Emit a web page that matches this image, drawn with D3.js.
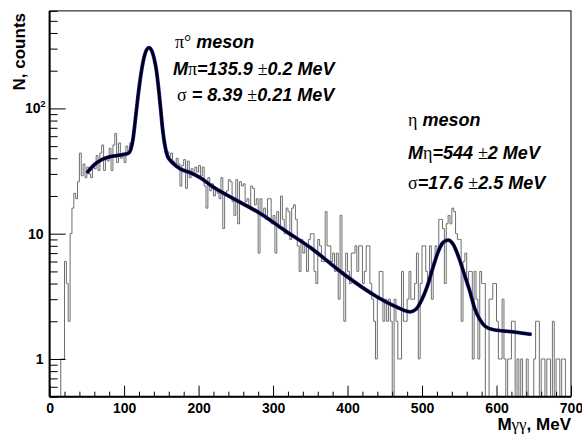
<!DOCTYPE html>
<html>
<head>
<meta charset="utf-8">
<script src="https://cdn.jsdelivr.net/npm/d3@7"></script>
<style>
body { margin: 0; background: #fff; }
</style>
</head>
<body>
<svg id="chart"></svg>
<script>
// histogram: 2.5 MeV bins from 0 to 700 MeV, counts
const binStart = 0;
const binWidth = 2.5;
const counts = [
  0,0,0,0,0,0,1,1,6,4,2,10,16,21,19,26,44,29,36,28,
  34,30,28,35,33,42,32,44,51,32,41,38,48,32,51,63,37,53,40,44,
  37,50,44,53,53,68,92,125,165,205,248,282,300,305,295,270,235,200,148,104,
  72,52,44,45,41,44,38,36,40,36,24,35,39,23,38,28,33,30,34,31,
  35,29,34,24,16,28,22,25,20,23,21,19,28,11,21,22,27,26,18,14,
  27,12,26,24,25,18,19,16,24,23,17,19,7,19,14,16,13,19,19,12,
  14,7,15,11,20,13,10,16,15,9,16,17,13,8,5,9,7,8,5,9,
  10,10,5,4,9,8,6,6,15,8,8,6,7,5,7,3,14,5,2,7,
  5,4,7,7,8,5,8,8,4,5,8,8,4,3,2,1,3,5,5,2,
  3,2,3,2,0,3,2,1,1,5,2,2,3,5,3,3,4,7,1,4,
  8,8,5,4,8,3,6,8,7,13,13,11,4,12,14,12,16,15,10,9,
  9,2,6,7,4,5,5,1,5,3,1,5,4,4,0,0,3,3,4,4,
  2,1,1,3,1,0,1,1,2,2,0,1,0,1,0,0,1,0,0,0,
  1,2,2,0,1,1,0,1,1,0,2,0,1,1,0,1,1,0,0,0
];

// fit curve, points
const fitMass = [50, 60, 70, 80, 90, 100, 106, 109, 112, 115, 118, 121, 124, 127, 130, 133.5,
  137, 140, 143, 146, 149, 152, 155, 158, 162, 168, 175, 190, 202, 220, 247, 282, 318, 352,
  394, 439, 466, 484, 492, 500, 507, 514, 521, 528, 535, 542, 550, 557, 564, 571, 578, 585,
  595, 620, 647];
const fitCounts = [30.5, 35.5, 39, 41, 42, 43, 44, 47, 57, 80, 115, 160, 210, 258, 292, 305,
  290, 255, 208, 150, 100, 66, 50, 42, 38.5, 35.5, 33, 30.5, 28, 23.5, 19, 14.6, 10.4, 7.6,
  4.8, 3.15, 2.6, 2.38, 2.5, 3.0, 3.8, 5.2, 7.0, 8.5, 8.9, 8.2, 6.3, 4.7, 3.5, 2.5, 2.05, 1.82,
  1.72, 1.65, 1.57];

const xTicks = [0, 100, 200, 300, 400, 500, 600, 700];
const yTicks = [1, 10, 100];
const yTickLabels = ["1", "10", "10"];

const width = 582, height = 434;
const padL = 49.6, padR = 571, padT = 10.9, padB = 396.7;

const svg = d3.select("#chart")
  .attr("width", width)
  .attr("height", height);

const x = d3.scaleLinear().domain([0, 700]).range([padL, padR]);
const y = d3.scaleLog().domain([0.5, 600]).range([padB, padT]);

svg.append("defs").append("clipPath").attr("id", "plotClip")
  .append("rect")
  .attr("x", padL).attr("y", padT)
  .attr("width", padR - padL).attr("height", padB - padT);

// histogram as a step line
const steps = [];
counts.forEach((c, i) => {
  const lo = binStart + i * binWidth;
  steps.push([lo, c]);
  steps.push([lo + binWidth, c]);
});
const histLine = d3.line()
  .x(d => x(d[0]))
  .y(d => d[1] > 0 ? y(d[1]) : padB + 1);

svg.append("path")
  .attr("clip-path", "url(#plotClip)")
  .attr("d", histLine(steps))
  .attr("fill", "none")
  .attr("stroke", "#6e6e6e")
  .attr("stroke-width", 1);

// fit curve
const fitLine = d3.line()
  .x(d => x(d[0]))
  .y(d => y(d[1]))
  .curve(d3.curveMonotoneX);
const fitPts = fitMass.map((m, i) => [m, fitCounts[i]]);

svg.append("path")
  .attr("d", fitLine(fitPts))
  .attr("fill", "none")
  .attr("stroke", "#2020d0")
  .attr("stroke-width", 3.8);
svg.append("path")
  .attr("d", fitLine(fitPts))
  .attr("fill", "none")
  .attr("stroke", "#000")
  .attr("stroke-width", 2.6);

// frame
svg.append("rect")
  .attr("x", padL).attr("y", padT)
  .attr("width", padR - padL).attr("height", padB - padT)
  .attr("fill", "none")
  .attr("stroke", "#000")
  .attr("stroke-width", 1);

// y axis ticks (inside the frame)
const yMinor = [];
[0.1, 1, 10, 100].forEach(dec => {
  for (let k = 2; k <= 9; k++) {
    const v = dec * k;
    if (v >= 0.5 && v <= 600) yMinor.push(v);
  }
});
svg.append("g")
  .attr("transform", "translate(" + padL + ",0)")
  .call(d3.axisLeft(y).tickValues(yMinor).tickSize(-8).tickSizeOuter(0).tickFormat(""))
  .call(g => g.select(".domain").remove());
const yAxis = svg.append("g")
  .attr("transform", "translate(" + padL + ",0)")
  .call(d3.axisLeft(y).tickValues(yTicks).tickSize(-16).tickSizeOuter(0)
    .tickFormat((d, i) => yTickLabels[i]))
  .call(g => g.select(".domain").remove());
yAxis.selectAll("line").attr("stroke", "#000");
yAxis.selectAll("text")
  .attr("x", -6)
  .attr("font-family", "'Liberation Sans', Arial, sans-serif")
  .attr("font-weight", "bold")
  .attr("font-size", "14px")
  .attr("fill", "#000");
yAxis.selectAll("text").filter(d => d === 100)
  .attr("x", -4)
  .append("tspan").attr("font-size", "9px").attr("dy", "-6").text("2");

// x axis ticks (inside the frame)
const xMinor = d3.range(0, 701, 20).filter(v => v % 100 !== 0);
svg.append("g")
  .attr("transform", "translate(0," + padB + ")")
  .call(d3.axisBottom(x).tickValues(xMinor).tickSize(-5).tickSizeOuter(0).tickFormat(""))
  .call(g => g.select(".domain").remove());
const xAxis = svg.append("g")
  .attr("transform", "translate(0," + padB + ")")
  .call(d3.axisBottom(x).tickValues(xTicks).tickSize(-11).tickSizeOuter(0).tickFormat(d3.format("d")))
  .call(g => g.select(".domain").remove());
xAxis.selectAll("text")
  .attr("y", 6)
  .attr("dy", "0.71em")
  .attr("font-family", "'Liberation Sans', Arial, sans-serif")
  .attr("font-weight", "bold")
  .attr("font-size", "14px")
  .attr("fill", "#000");

// heavier left and bottom axis lines
svg.append("line").attr("x1", padL).attr("x2", padL).attr("y1", padT).attr("y2", padB)
  .attr("stroke", "#000").attr("stroke-width", 2);
svg.append("line").attr("x1", padL).attr("x2", padR).attr("y1", padB).attr("y2", padB)
  .attr("stroke", "#000").attr("stroke-width", 2);

// axis titles
const sans = "'Liberation Sans', Arial, sans-serif";
const serif = "'Liberation Serif', 'Times New Roman', serif";

svg.append("text")
  .attr("transform", "translate(25,13) rotate(-90)")
  .attr("text-anchor", "end")
  .attr("font-family", sans)
  .attr("font-weight", "bold")
  .attr("font-size", "17px")
  .text("N, counts");

function richText(tx, ty, parts, size, anchor) {
  const t = svg.append("text")
    .attr("x", tx).attr("y", ty)
    .attr("text-anchor", anchor || "start")
    .attr("font-size", size);
  parts.forEach(p => {
    const s = t.append("tspan").text(p[0]);
    if (p[1] === "g") {
      s.attr("font-family", serif).attr("font-weight", "normal").attr("font-style", "normal");
    } else if (p[1] === "bi") {
      s.attr("font-family", sans).attr("font-weight", "bold").attr("font-style", "italic");
    } else {
      s.attr("font-family", sans).attr("font-weight", "bold");
    }
  });
  return t;
}

richText(571, 430, [["M", "b"], ["γγ", "g"], [", MeV", "b"]], "17px", "end");

// annotations
const fs = "18px";
richText(175, 48, [["π°", "g"], [" meson", "bi"]], fs);
richText(173, 75, [["M", "bi"], ["π", "g"], ["=135.9 ", "bi"], ["±", "g"], ["0.2 MeV", "bi"]], fs);
richText(177, 101, [["σ", "g"], [" = 8.39 ", "bi"], ["±", "g"], ["0.21 MeV", "bi"]], fs);
richText(408, 126, [["η", "g"], [" meson", "bi"]], fs);
richText(408, 159, [["M", "bi"], ["η", "g"], ["=544 ", "bi"], ["±", "g"], ["2 MeV", "bi"]], fs);
richText(408, 189, [["σ", "g"], ["=17.6 ", "bi"], ["±", "g"], ["2.5 MeV", "bi"]], fs);
</script>
</body>
</html>
